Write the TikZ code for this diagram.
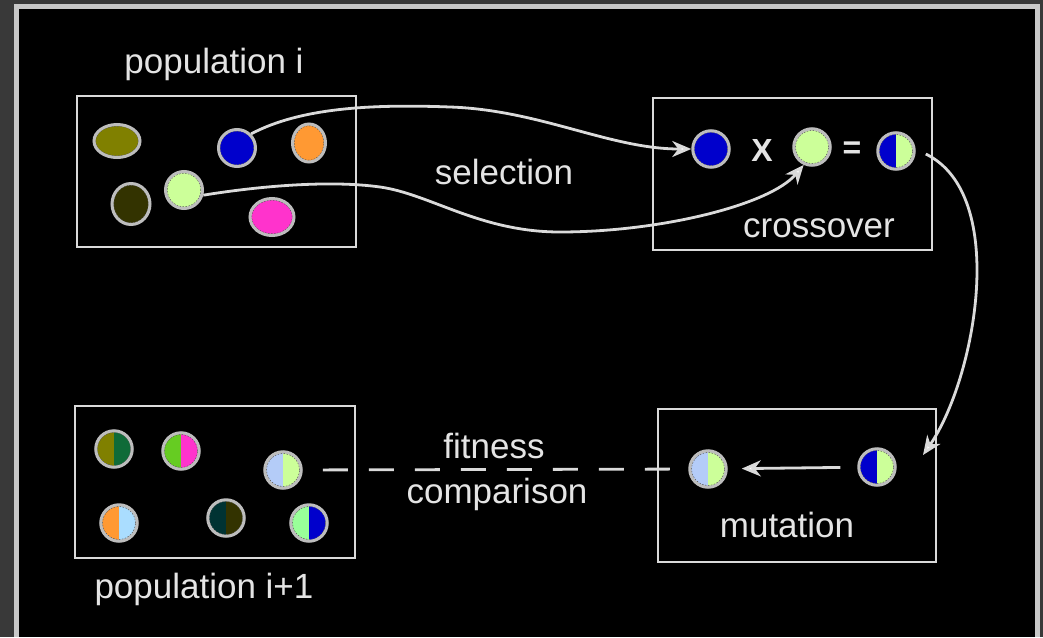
\documentclass[tikz,border=0pt]{standalone}
\usepackage{fontspec}
\setmainfont{Liberation Sans}
\usetikzlibrary{arrows.meta,shapes.geometric}
\definecolor{bgc}{HTML}{393939}
\definecolor{framec}{HTML}{C8C8C8}
\definecolor{linec}{HTML}{DADADA}
\definecolor{txtc}{HTML}{E4E4E4}
\definecolor{ringc}{HTML}{BDBDBD}
\definecolor{dashc}{HTML}{505050}
\definecolor{colive}{HTML}{808000}
\definecolor{cblue}{HTML}{0000CC}
\definecolor{corange}{HTML}{FF9933}
\definecolor{cdarkol}{HTML}{333300}
\definecolor{clgreen}{HTML}{CCFF99}
\definecolor{cmag}{HTML}{FF33CC}
\definecolor{cdgreen}{HTML}{0F6B38}
\definecolor{cbgreen}{HTML}{66CC22}
\definecolor{clblue}{HTML}{B4CCF8}
\definecolor{ccyan}{HTML}{AADDFF}
\definecolor{cteal}{HTML}{003333}
\definecolor{cpgreen}{HTML}{99FF99}
\tikzset{
  boxst/.style={draw=linec, line width=2.8pt, inner sep=0pt},
  lbl/.style={text=txtc, font=\fontsize{35}{40}\selectfont, inner sep=0pt, anchor=base},
  sym/.style={text=txtc, font=\bfseries\fontsize{32}{36}\selectfont, inner sep=0pt},
  indbase/.style={ellipse, draw=ringc, line width=3pt, inner sep=0pt},
  ind/.style n args={3}{indbase, minimum width=#1, minimum height=#2, fill=#3,
    path picture={\draw[dashc, line width=0.8pt, dash pattern=on 1.5pt off 1.5pt]
      (path picture bounding box.center) ellipse [x radius=#1/2-1.6pt, y radius=#2/2-1.6pt];}},
  half/.style 2 args={indbase, minimum width=36.5pt, minimum height=36.5pt,
    path picture={
      \fill[#1] (path picture bounding box.south west) rectangle (path picture bounding box.north);
      \fill[#2] (path picture bounding box.south) rectangle (path picture bounding box.north east);
      \draw[dashc, line width=0.8pt, dash pattern=on 1.5pt off 1.5pt]
        (path picture bounding box.center) circle [radius=16.6pt];}},
  conn/.style={draw=linec, line width=2.8pt,
    -{Stealth[length=19pt, width=16pt, inset=6pt, fill=white]}},
  dashconn/.style={draw=linec, line width=2.8pt, dash pattern=on 25pt off 21pt}
}
\begin{document}
\begin{tikzpicture}[x=1pt,y=-1pt]
\useasboundingbox (0,0) rectangle (1043,637);
\fill[bgc] (0,0) rectangle (1043,637);
\fill[black] (16.5,6.5) rectangle (1037,637);
\draw[framec, line width=5pt] (16.5,637) -- (16.5,6.5) -- (1037,6.5) -- (1037,637);

% boxes
\node[boxst, minimum width=279pt, minimum height=151pt] (box1) at (216.5,171.5) {};
\node[boxst, minimum width=279pt, minimum height=152pt] (box2) at (792.5,174) {};
\node[boxst, minimum width=280pt, minimum height=152pt] (box3) at (215,482) {};
\node[boxst, minimum width=278pt, minimum height=153pt] (box4) at (797,485.5) {};

% labels
\node[lbl] (tpop) at (214,73) {population i};
\node[lbl] (tsel) at (504,184) {selection};
\node[lbl] (tcross) at (819,237) {crossover};
\node[lbl] (tfit) at (494,458) {fitness};
\node[lbl] (tcomp) at (497,503) {comparison};
\node[lbl] (tmut) at (787,537) {mutation};
\node[lbl] (tpop2) at (204,598) {population i+1};
\node[sym] (tx) at (762,150) {X};
\node[sym] (teq) at (852,150) {=};

% population i
\node[ind={46pt}{33pt}{colive}] (p1olive) at (117,141) {};
\node[ind={37pt}{37pt}{cblue}] (p1blue) at (237,148) {};
\node[ind={33pt}{38pt}{corange}] (p1orange) at (309,143) {};
\node[ind={38pt}{41pt}{cdarkol}] (p1dark) at (131,204) {};
\node[ind={37pt}{37pt}{clgreen}] (p1green) at (184,190) {};
\node[ind={44pt}{37pt}{cmag}] (p1mag) at (272,217) {};

% crossover
\node[ind={36.5pt}{36.5pt}{cblue}] (cxblue) at (711,149) {};
\node[ind={36.5pt}{36.5pt}{clgreen}] (cxgreen) at (812,147) {};
\node[half={cblue}{clgreen}] (cxres) at (896,151) {};

% mutation
\node[half={clblue}{clgreen}] (mnew) at (708,469) {};
\node[half={cblue}{clgreen}] (mres) at (877,467) {};

% population i+1
\node[half={colive}{cdgreen}] (pn1) at (114,449) {};
\node[half={cbgreen}{cmag}] (pn2) at (181,451) {};
\node[half={clblue}{clgreen}] (pn3) at (283,470) {};
\node[half={corange}{ccyan}] (pn4) at (119,523) {};
\node[half={cteal}{cdarkol}] (pn5) at (226,518) {};
\node[half={cpgreen}{cblue}] (pn6) at (309,523) {};

\coordinate (mutin) at (923,455);

% connectors
\draw[conn] (p1blue.45) .. controls (300,108) and (370,104) .. (450,107)
  .. controls (540,110) and (610,149) .. (cxblue.west);
\draw[conn] (p1green.-15) .. controls (260,186) and (330,180) .. (380,187)
  .. controls (430,194) and (480,232) .. (560,232)
  .. controls (660,232) and (770,205) .. (cxgreen.245);
\draw[conn] ([xshift=10pt,yshift=-3pt]cxres.east) .. controls (1010,195) and (975,380) .. (mutin);
\draw[conn, shorten <=17pt, shorten >=14pt] (mres) -- (mnew);
\draw[dashconn, shorten <=20pt, shorten >=12pt] (pn3) -- (mnew);
\end{tikzpicture}
\end{document}
